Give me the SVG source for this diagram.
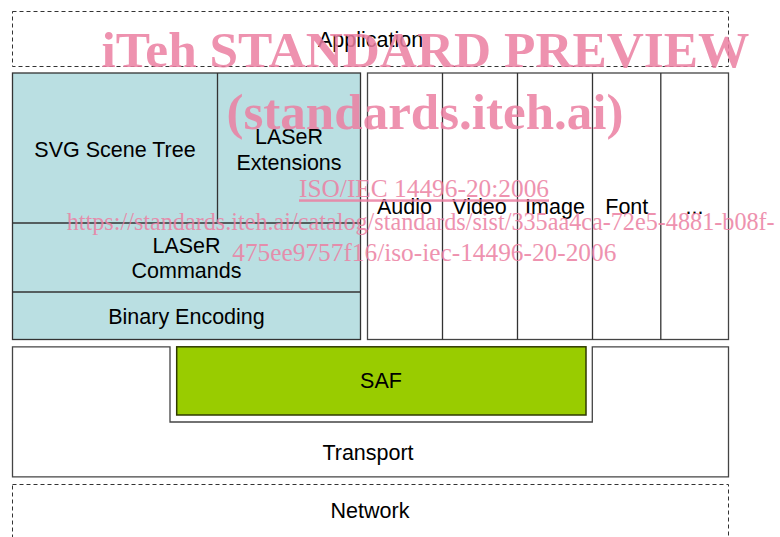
<svg xmlns="http://www.w3.org/2000/svg" width="780" height="537" viewBox="0 0 780 537">
<style>
.lbl{font-family:"Liberation Sans",Arial,sans-serif;font-size:21.5px;fill:#000;text-anchor:middle}
.dash{fill:#fff;stroke:#333;stroke-width:1;stroke-dasharray:4 3}
.cy{fill:#BADFE2;stroke:#333;stroke-width:1.3}
.wh{fill:#fff;stroke:#444;stroke-width:1.3}
.ln{stroke:#333;stroke-width:1.3;fill:none}
.wm{font-family:"Liberation Serif","Times New Roman",serif;fill:#EC7FA2;opacity:0.85}
</style>
<rect width="780" height="537" fill="#fff"/>
<g id="application">
<rect class="dash" x="12.5" y="11.5" width="716" height="55"/>
<text class="lbl" x="370.5" y="46.5">Application</text>
</g>
<g id="scene-block">
<rect class="cy" x="12.5" y="73" width="348" height="266.5"/>
<line class="ln" x1="217.5" y1="73" x2="217.5" y2="223"/>
<line class="ln" x1="12.5" y1="223" x2="360.5" y2="223"/>
<line class="ln" x1="12.5" y1="292" x2="360.5" y2="292"/>
</g>
<g id="svg-scene-tree"><text class="lbl" x="115" y="156.7">SVG Scene Tree</text></g>
<g id="laser-extensions"><text class="lbl" x="289" y="144">LASeR</text><text class="lbl" x="289" y="169.5">Extensions</text></g>
<g id="laser-commands"><text class="lbl" x="186.5" y="252.7">LASeR</text><text class="lbl" x="186.5" y="278.3">Commands</text></g>
<g id="binary-encoding"><text class="lbl" x="186.5" y="324">Binary Encoding</text></g>
<g id="media-block">
<rect class="wh" x="367.5" y="73" width="361" height="266.5"/>
<line class="ln" x1="442.5" y1="73" x2="442.5" y2="339.5"/>
<line class="ln" x1="517.5" y1="73" x2="517.5" y2="339.5"/>
<line class="ln" x1="592.5" y1="73" x2="592.5" y2="339.5"/>
<line class="ln" x1="660.8" y1="73" x2="660.8" y2="339.5"/>
</g>
<g id="audio"><text class="lbl" x="404.5" y="214.3">Audio</text></g>
<g id="video"><text class="lbl" x="479.5" y="214.3">Video</text></g>
<g id="image"><text class="lbl" x="555" y="214.3">Image</text></g>
<g id="font"><text class="lbl" x="626.8" y="214.3">Font</text></g>
<g id="more"><text class="lbl" x="694.5" y="214.3">...</text></g>
<g id="transport">
<path class="wh" d="M12.5 346.8 H170 V422 H592.3 V346.8 H728.5 V476.8 H12.5 Z"/>
<text class="lbl" x="368" y="460">Transport</text>
</g>
<g id="saf">
<rect x="176.7" y="346.8" width="409.3" height="68.2" fill="#99CC00" stroke="#2F3A00" stroke-width="1.5"/>
<text class="lbl" x="381" y="388.3">SAF</text>
</g>
<g id="network">
<rect class="dash" x="12.5" y="484.5" width="716" height="60"/>
<text class="lbl" x="370" y="518.3">Network</text>
</g>
<g id="connectors"></g>
<g id="watermark">
<text class="wm" x="101.5" y="66.5" font-size="50" font-weight="bold" textLength="648" lengthAdjust="spacingAndGlyphs">iTeh STANDARD PREVIEW</text>
<text class="wm" x="226.5" y="128.5" font-size="50" font-weight="bold" textLength="397" lengthAdjust="spacingAndGlyphs">(standards.iteh.ai)</text>
<text class="wm" x="299" y="197.3" font-size="25" textLength="250" lengthAdjust="spacingAndGlyphs" text-decoration="underline">ISO/IEC 14496-20:2006</text>
<text class="wm" x="66.7" y="230" font-size="25" textLength="708" lengthAdjust="spacingAndGlyphs">https://standards.iteh.ai/catalog/standards/sist/335aa4ca-72e5-4881-b08f-</text>
<text class="wm" x="232.3" y="260.7" font-size="25" textLength="384" lengthAdjust="spacingAndGlyphs">475ee9757f16/iso-iec-14496-20-2006</text>
</g>
</svg>
